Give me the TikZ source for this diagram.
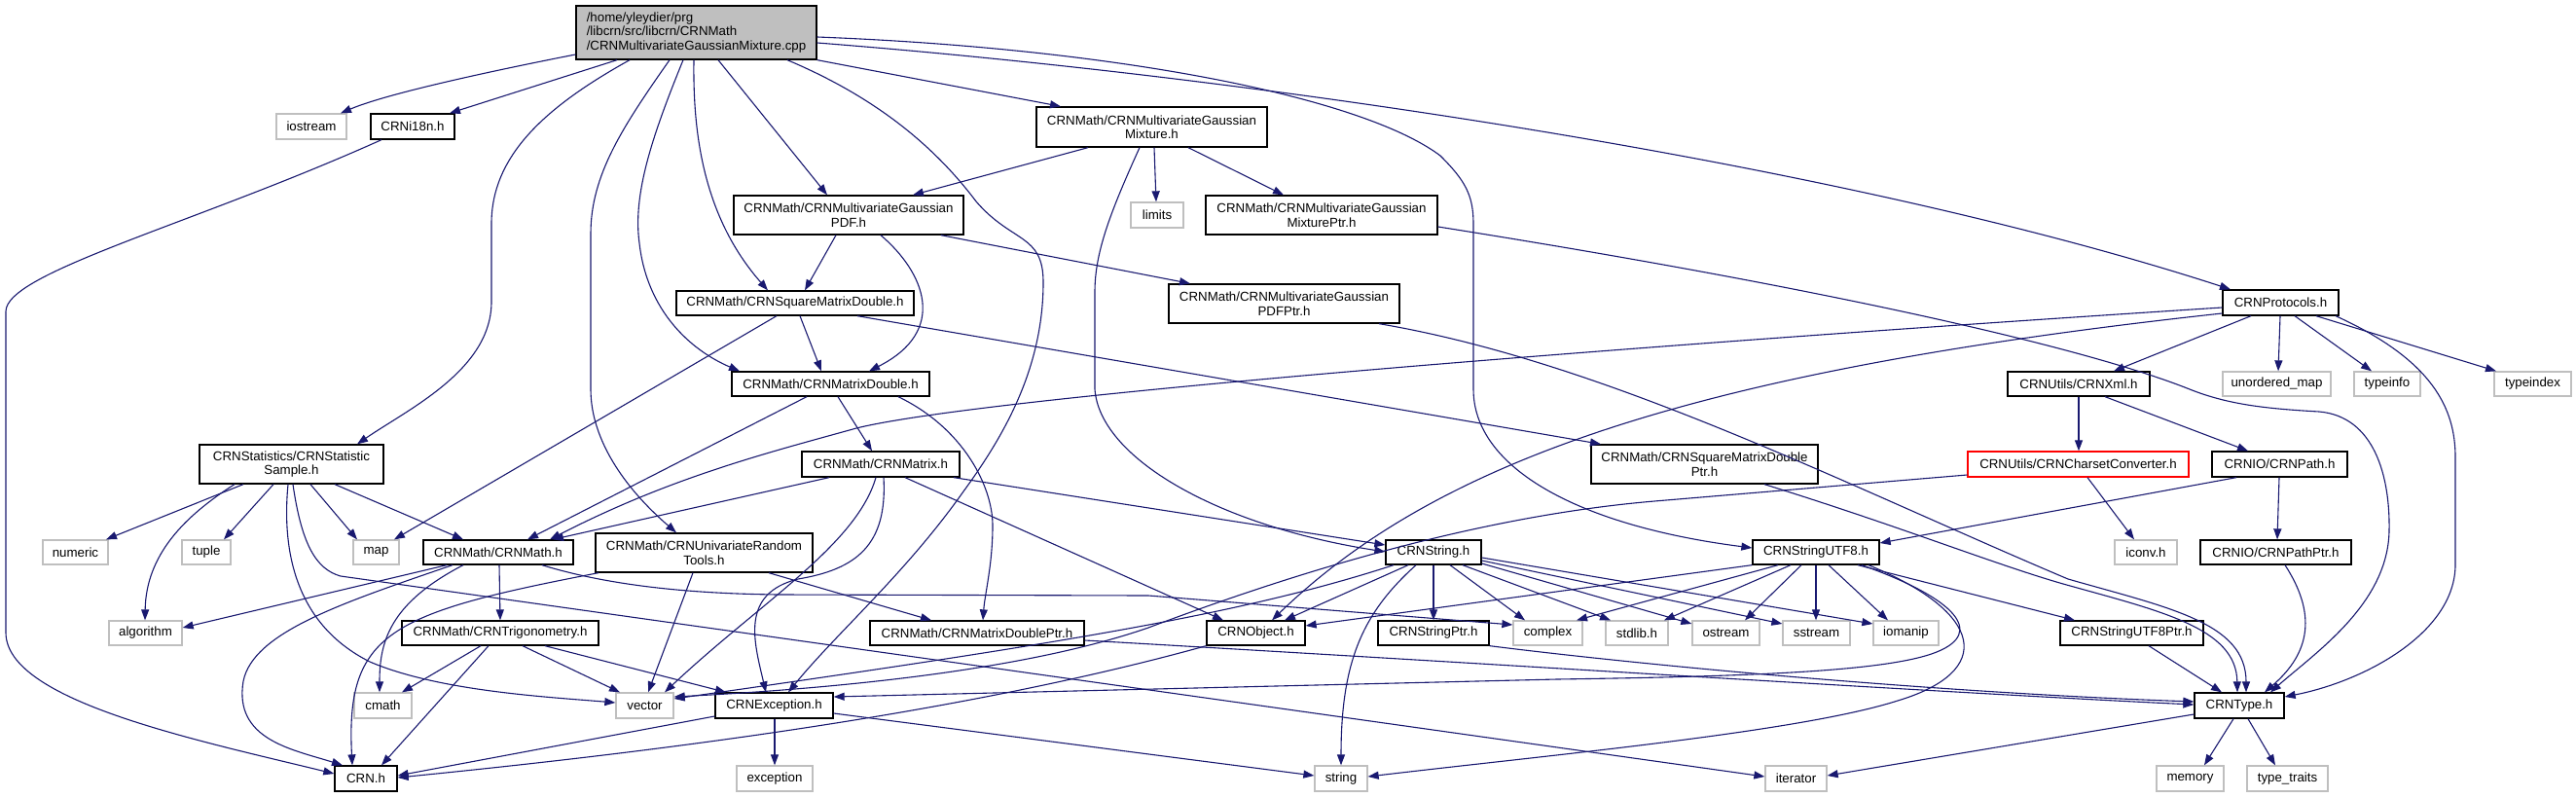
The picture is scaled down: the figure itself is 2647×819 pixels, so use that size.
\documentclass[tikz,border=0pt]{standalone}
\usepackage{fontspec}
\setmainfont{Liberation Sans}
\usetikzlibrary{arrows.meta}
\definecolor{edgec}{HTML}{191970}
\definecolor{gray75}{HTML}{BFBFBF}
\newcommand\dfont{\fontsize{13.3pt}{14.5pt}\selectfont}
\newcommand\bx[7]{\node[#1,minimum width={#5-#3},minimum height={#6-#4}] (#2) at ({(#3+#5)/2},{(#4+#6)/2}) {#7};}
\begin{document}
\begin{tikzpicture}[x=1pt,y=-1pt,
 fb/.style={draw=black,line width=1.3pt,fill=white,inner sep=0pt,align=center,font=\dfont},
 gb/.style={fb,draw=gray75},
 rb/.style={fb,draw=red},
 rootb/.style={fb,fill=gray75,align=left},
 e/.style={draw=edgec,line width=1.1pt,-{Triangle[length=11pt,width=8pt]}}]
\useasboundingbox (0,0) rectangle (2647,819);
\fill[white] (0,0) rectangle (2647,819);
% nodes
\bx{rootb}{root}{592}{6}{839}{61}{/home/yleydier/prg\\/libcrn/src/libcrn/CRNMath\\/CRNMultivariateGaussianMixture.cpp}
\bx{gb}{iostream}{284}{117}{356}{143}{iostream}
\bx{fb}{i18n}{381}{117}{467}{143}{CRNi18n.h}
\bx{fb}{mix}{1065}{110}{1302}{151}{CRNMath/CRNMultivariateGaussian\\Mixture.h}
\bx{fb}{pdf}{754}{201}{990}{241}{CRNMath/CRNMultivariateGaussian\\PDF.h}
\bx{gb}{limits}{1162}{208}{1216}{234}{limits}
\bx{fb}{mixptr}{1239}{201}{1477}{241}{CRNMath/CRNMultivariateGaussian\\MixturePtr.h}
\bx{fb}{sqm}{695}{299}{939}{324}{CRNMath/CRNSquareMatrixDouble.h}
\bx{fb}{pdfptr}{1201}{292}{1438}{332}{CRNMath/CRNMultivariateGaussian\\PDFPtr.h}
\bx{fb}{prot}{2284}{298}{2403}{324}{CRNProtocols.h}
\bx{fb}{md}{752}{382}{955}{407}{CRNMath/CRNMatrixDouble.h}
\bx{fb}{xml}{2063}{382}{2209}{407}{CRNUtils/CRNXml.h}
\bx{gb}{umap}{2284}{382}{2395}{407}{unordered\_map}
\bx{gb}{typeinfo}{2419}{382}{2487}{407}{typeinfo}
\bx{gb}{typeindex}{2563}{382}{2642}{407}{typeindex}
\bx{fb}{ss}{205}{457}{394}{497}{CRNStatistics/CRNStatistic\\Sample.h}
\bx{fb}{mat}{824}{464}{986}{490}{CRNMath/CRNMatrix.h}
\bx{fb}{sqmp}{1635}{457}{1868}{497}{CRNMath/CRNSquareMatrixDouble\\Ptr.h}
\bx{rb}{cc}{2022}{464}{2249}{490}{CRNUtils/CRNCharsetConverter.h}
\bx{fb}{crnpath}{2273}{464}{2412}{490}{CRNIO/CRNPath.h}
\bx{gb}{numeric}{44}{555}{111}{580}{numeric}
\bx{gb}{tuple}{187}{555}{237}{580}{tuple}
\bx{gb}{map}{363}{555}{410}{580}{map}
\bx{fb}{crnmath}{435}{555}{589}{580}{CRNMath/CRNMath.h}
\bx{fb}{uni}{612}{548}{835}{588}{CRNMath/CRNUnivariateRandom\\Tools.h}
\bx{fb}{str}{1424}{555}{1522}{580}{CRNString.h}
\bx{fb}{utf8}{1801}{555}{1931}{580}{CRNStringUTF8.h}
\bx{gb}{iconv}{2173}{555}{2237}{580}{iconv.h}
\bx{fb}{pathptr}{2261}{555}{2416}{580}{CRNIO/CRNPathPtr.h}
\bx{gb}{algorithm}{112}{638}{187}{663}{algorithm}
\bx{fb}{trig}{413}{638}{615}{663}{CRNMath/CRNTrigonometry.h}
\bx{fb}{mdp}{894}{638}{1114}{663}{CRNMath/CRNMatrixDoublePtr.h}
\bx{fb}{obj}{1240}{638}{1341}{663}{CRNObject.h}
\bx{fb}{strptr}{1416}{638}{1530}{663}{CRNStringPtr.h}
\bx{gb}{complex}{1555}{638}{1626}{663}{complex}
\bx{gb}{stdlib}{1650}{638}{1714}{663}{stdlib.h}
\bx{gb}{ostream}{1739}{638}{1808}{663}{ostream}
\bx{gb}{sstream}{1832}{638}{1901}{663}{sstream}
\bx{gb}{iomanip}{1925}{638}{1992}{663}{iomanip}
\bx{fb}{utf8ptr}{2117}{638}{2264}{663}{CRNStringUTF8Ptr.h}
\bx{gb}{cmath}{364}{712}{423}{738}{cmath}
\bx{gb}{vector}{633}{712}{692}{738}{vector}
\bx{fb}{exc}{735}{712}{856}{738}{CRNException.h}
\bx{fb}{type}{2255}{712}{2347}{738}{CRNType.h}
\bx{fb}{crn}{344}{787}{408}{813}{CRN.h}
\bx{gb}{exception}{757}{787}{835}{813}{exception}
\bx{gb}{string}{1351}{787}{1405}{813}{string}
\bx{gb}{iterator}{1814}{787}{1877}{813}{iterator}
\bx{gb}{memory}{2216}{787}{2285}{813}{memory}
\bx{gb}{typetraits}{2309}{787}{2392}{813}{type\_traits}
% root edges
\draw[e] (root.west |- 0,56) .. controls (520,70) and (400,95) .. (350,0 |- iostream.north);
\draw[e] (634,0 |- root.south) -- (462,0 |- i18n.north);
\draw[e] (647,0 |- root.south) .. controls (560,110) and (505,160) .. (505,230) -- (505,310) .. controls (505,380) and (420,420) .. (367,0 |- ss.north);
\draw[e] (688,0 |- root.south) .. controls (640,130) and (607,180) .. (607,240) -- (607,400) .. controls (607,450) and (640,500) .. (695,0 |- uni.north);
\draw[e] (702,0 |- root.south) .. controls (670,140) and (650,200) .. (657,250) .. controls (665,320) and (710,360) .. (760,0 |- md.north);
\draw[e] (713,0 |- root.south) .. controls (712,130) and (720,220) .. (789,0 |- sqm.north);
\draw[e] (738,0 |- root.south) -- (850,0 |- pdf.north);
\draw[e] (root.south east) -- (1090,0 |- mix.north);
\draw[e] (809,0 |- root.south) .. controls (900,100) and (960,150) .. (1003,207) .. controls (1040,250) and (1072,240) .. (1072,290) .. controls (1072,380) and (1030,450) .. (990,505) .. controls (930,590) and (860,650) .. (810,0 |- exc.north);
\draw[e] (root.east |- 0,38) .. controls (1150,50) and (1400,100) .. (1480,160) .. controls (1505,185) and (1514,200) .. (1514,230) -- (1514,400) .. controls (1514,480) and (1620,540) .. (utf8.west |- 0,563);
\draw[e] (root.east |- 0,44) .. controls (1300,80) and (1900,170) .. (2292,0 |- prot.north);
\draw[e] (392,0 |- i18n.south) .. controls (200,230) and (6,280) .. (6,320) -- (6,650) .. controls (6,720) and (200,760) .. (crn.west |- 0,795);
% mixture
\draw[e] (1118,0 |- mix.south) -- (938,0 |- pdf.north);
\draw[e] (1186,0 |- mix.south) -- (1188,0 |- limits.north);
\draw[e] (1221,0 |- mix.south) -- (1319,0 |- mixptr.north);
\draw[e] (1171,0 |- mix.south) .. controls (1140,220) and (1125,260) .. (1125,300) -- (1125,400) .. controls (1130,470) and (1250,540) .. (str.west |- 0,567);
% pdf
\draw[e] (859,0 |- pdf.south) -- (827,0 |- sqm.north);
\draw[e] (905,0 |- pdf.south) .. controls (950,280) and (975,340) .. (893,0 |- md.north);
\draw[e] (967,0 |- pdf.south) -- (1223,0 |- pdfptr.north);
% ptr -> type
\draw[e] (mixptr.east |- 0,233) .. controls (1900,300) and (2150,360) .. (2250,400) .. controls (2290,416) and (2330,420) .. (2383,423) .. controls (2440,428) and (2456,490) .. (2455,545) .. controls (2454,620) and (2380,670) .. (2333,0 |- type.north);
\draw[e] (1417,0 |- pdfptr.south) .. controls (1650,372) and (1900,500) .. (2125,595) .. controls (2230,625) and (2308,640) .. (2308,0 |- type.north);
\draw[e] (1813,0 |- sqmp.south) .. controls (1950,540) and (2050,580) .. (2120,600) .. controls (2220,628) and (2298,645) .. (2299,0 |- type.north);
% square matrix double
\draw[e] (798,0 |- sqm.south) -- (405,0 |- map.north);
\draw[e] (822,0 |- sqm.south) -- (844,0 |- md.north);
\draw[e] (881,0 |- sqm.south) -- (1645,0 |- sqmp.north);
% matrix double
\draw[e] (829,0 |- md.south) -- (542,0 |- crnmath.north);
\draw[e] (861,0 |- md.south) -- (896,0 |- mat.north);
\draw[e] (923,0 |- md.south) .. controls (990,440) and (1020,500) .. (1020,540) .. controls (1020,580) and (1012,610) .. (1010,0 |- mdp.north);
% matrix
\draw[e] (852,0 |- mat.south) -- (568,0 |- crnmath.north);
\draw[e] (900,0 |- mat.south) .. controls (880,560) and (780,620) .. (683,0 |- vector.north);
\draw[e] (908,0 |- mat.south) .. controls (912,560) and (880,585) .. (820,595) .. controls (760,610) and (775,660) .. (787,0 |- exc.north);
\draw[e] (930,0 |- mat.south) -- (1257,0 |- obj.north);
\draw[e] (980,0 |- mat.south) -- (str.west |- 0,560);
% univariate
\draw[e] (615,0 |- uni.south) .. controls (400,630) and (355,650) .. (362,0 |- crn.north);
\draw[e] (712,0 |- uni.south) -- (666,0 |- vector.north);
\draw[e] (790,0 |- uni.south) -- (957,0 |- mdp.north);
% crnmath
\draw[e] (459,0 |- crnmath.south) -- (algorithm.east |- 0,645);
\draw[e] (465,0 |- crnmath.south) .. controls (350,620) and (260,650) .. (250,700) .. controls (240,760) and (300,770) .. (352,0 |- crn.north);
\draw[e] (476,0 |- crnmath.south) .. controls (400,620) and (390,660) .. (390,0 |- cmath.north);
\draw[e] (513,0 |- crnmath.south) -- (514,0 |- trig.north);
\draw[e] (557,0 |- crnmath.south) .. controls (620,600) and (700,610) .. (800,611) -- (1180,612) -- (complex.west |- 0,642);
% trig
\draw[e] (494,0 |- trig.south) -- (413,0 |- cmath.north);
\draw[e] (502,0 |- trig.south) -- (392,0 |- crn.north);
\draw[e] (537,0 |- trig.south) -- (637,0 |- vector.north);
\draw[e] (560,0 |- trig.south) -- (746,0 |- exc.north);
% statistic sample
\draw[e] (250,0 |- ss.south) -- (109,0 |- numeric.north);
\draw[e] (241,0 |- ss.south) .. controls (190,530) and (150,570) .. (149,0 |- algorithm.north);
\draw[e] (281,0 |- ss.south) -- (230,0 |- tuple.north);
\draw[e] (319,0 |- ss.south) -- (367,0 |- map.north);
\draw[e] (344,0 |- ss.south) -- (476,0 |- crnmath.north);
\draw[e] (296,0 |- ss.south) .. controls (290,560) and (300,640) .. (380,680) .. controls (450,710) and (560,716) .. (vector.west |- 0,722);
\draw[e] (301,0 |- ss.south) .. controls (310,560) and (325,585) .. (350,592) -- (iterator.west |- 0,798);
% exception
\draw[e] (796,0 |- exc.south) -- (796,0 |- exception.north);
\draw[e] (exc.west |- 0,736) -- (crn.east |- 0,797);
\draw[e] (exc.east |- 0,733) -- (string.west |- 0,797);
% object
\draw[e] (obj.south west) .. controls (1000,730) and (700,770) .. (crn.east |- 0,799);
% string
\draw[e] (1447,0 |- str.south) -- (1320,0 |- obj.north);
\draw[e] (1455,0 |- str.south) .. controls (1400,630) and (1378,680) .. (1378,0 |- string.north);
\draw[e] (1473,0 |- str.south) -- (1473,0 |- strptr.north);
\draw[e] (1490,0 |- str.south) -- (1567,0 |- complex.north);
\draw[e] (1503,0 |- str.south) -- (1655,0 |- stdlib.north);
\draw[e] (str.east |- 0,579) -- (ostream.west |- 0,641);
\draw[e] (str.east |- 0,576) -- (sstream.west |- 0,641);
\draw[e] (str.east |- 0,573) -- (iomanip.west |- 0,641);
\draw[e] (1432,0 |- str.south) .. controls (1280,630) and (1100,660) .. (vector.east |- 0,718);
% -> type from left
\draw[e] (strptr.south east) .. controls (1700,685) and (2000,712) .. (type.west |- 0,721);
\draw[e] (mdp.east |- 0,658) .. controls (1500,680) and (2000,712) .. (type.west |- 0,724);
% protocols
\draw[e] (2313,0 |- prot.south) -- (2172,0 |- xml.north);
\draw[e] (2343,0 |- prot.south) -- (2341,0 |- umap.north);
\draw[e] (2358,0 |- prot.south) -- (2437,0 |- typeinfo.north);
\draw[e] (2380,0 |- prot.south) -- (2565,0 |- typeindex.north);
\draw[e] (2400,0 |- prot.south) .. controls (2500,370) and (2523,420) .. (2523,470) -- (2523,580) .. controls (2523,650) and (2430,700) .. (type.east |- 0,716);
\draw[e] (prot.west |- 0,316) .. controls (1600,360) and (1000,410) .. (880,440) .. controls (790,465) and (690,490) .. (565,0 |- crnmath.north);
\draw[e] (prot.west |- 0,322) .. controls (1750,380) and (1480,470) .. (1307,0 |- obj.north);
% xml
\draw[e] (2136,0 |- xml.south) -- (2136,0 |- cc.north);
\draw[e] (2163,0 |- xml.south) -- (2310,0 |- crnpath.north);
% charset converter
\draw[e] (2145,0 |- cc.south) -- (2193,0 |- iconv.north);
\draw[e] (cc.west |- 0,488) -- (1700,515) .. controls (1500,532) and (1300,600) .. (1180,645) .. controls (1050,690) and (850,708) .. (vector.east |- 0,716);
% path
\draw[e] (2342,0 |- crnpath.south) -- (2340,0 |- pathptr.north);
\draw[e] (2298,0 |- crnpath.south) -- (utf8.east |- 0,558);
\draw[e] (2348,0 |- pathptr.south) .. controls (2380,630) and (2375,670) .. (2327,0 |- type.north);
% utf8
\draw[e] (utf8.south west) -- (obj.east |- 0,643);
\draw[e] (1827,0 |- utf8.south) -- (1620,0 |- complex.north);
\draw[e] (1840,0 |- utf8.south) -- (1710,0 |- stdlib.north);
\draw[e] (1851,0 |- utf8.south) -- (1793,0 |- ostream.north);
\draw[e] (1866,0 |- utf8.south) -- (1866,0 |- sstream.north);
\draw[e] (1879,0 |- utf8.south) -- (1940,0 |- iomanip.north);
\draw[e] (1909,0 |- utf8.south) -- (2132,0 |- utf8ptr.north);
\draw[e] (1913,0 |- utf8.south) .. controls (2010,615) and (2040,650) .. (1990,670) .. controls (1940,690) and (1800,695) .. (1600,698) -- (exc.east |- 0,716);
\draw[e] (1920,0 |- utf8.south) .. controls (2040,630) and (2050,690) .. (1950,720) .. controls (1850,752) and (1600,775) .. (string.east |- 0,798);
\draw[e] (2208,0 |- utf8ptr.south) -- (2283,0 |- type.north);
% type
\draw[e] (type.west |- 0,734) -- (iterator.east |- 0,797);
\draw[e] (2295,0 |- type.south) -- (2265,0 |- memory.north);
\draw[e] (2310,0 |- type.south) -- (2338,0 |- typetraits.north);
\end{tikzpicture}
\end{document}
